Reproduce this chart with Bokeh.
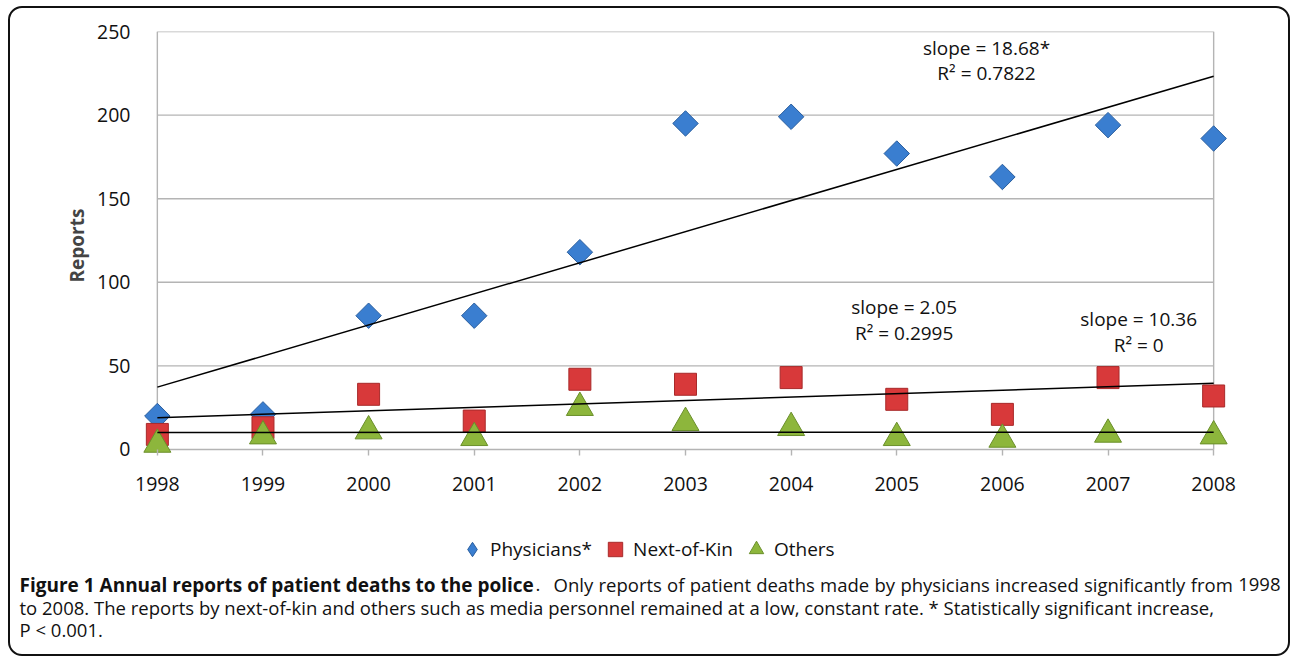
import numpy as np
from bokeh.plotting import figure
from bokeh.layouts import column
from bokeh.models import Range1d, FixedTicker, Label, Legend, LegendItem
from bokeh.embed import file_html
from bokeh.resources import INLINE

# ---------------- data ----------------
years = [1998, 1999, 2000, 2001, 2002, 2003, 2004, 2005, 2006, 2007, 2008]
physicians = [20, 21, 80, 80, 118, 195, 199, 177, 163, 194, 186]
next_of_kin = [9, 13, 33, 17, 42, 39, 43, 30, 21, 43, 32]
others = [3, 8, 11, 7, 25, 16, 13, 7, 6, 9, 8]
y_ticks = [0, 50, 100, 150, 200, 250]
series_names = ["Physicians*", "Next-of-Kin", "Others"]
trend_notes = [["slope = 18.68*", "R\u00b2 = 0.7822"],
               ["slope = 2.05", "R\u00b2 = 0.2995"],
               ["slope = 10.36", "R\u00b2 = 0"]]
y_title = "Reports"
caption_bold = "Figure 1 Annual reports of patient deaths to the police"
caption_rest = [". Only reports of patient deaths made by physicians increased significantly from 1998",
                "to 2008. The reports by next-of-kin and others such as media personnel remained at a low, constant rate. * Statistically significant increase,",
                "P < 0.001."]

# ---------------- style ----------------
FONT = "Open Sans"
TXT = "#111111"
GRID = "#B4B4B4"
COLORS = [("#3A7ED0", "#2A5E9E"), ("#D8393A", "#A82A2A"), ("#8DB63C", "#6A8F2A")]
W = 1278
TICK_FS = "19.5px"

# ---------------- chart ----------------
p = figure(width=W, height=502,
           x_range=Range1d(1997.85, 2008.15), y_range=Range1d(-6, 250),
           output_backend="svg", toolbar_location=None,
           min_border_left=131, min_border_right=59,
           min_border_top=23, min_border_bottom=51)
p.frame_align = False
p.outline_line_color = None
p.border_fill_color = None
p.background_fill_color = None
p.xgrid.visible = False
p.ygrid.visible = False

n = len(y_ticks)
p.segment(x0=[years[0]] * n, x1=[years[-1]] * n, y0=y_ticks, y1=y_ticks,
          line_color=GRID, line_width=1.4)
p.segment(x0=[years[0], years[-1]], x1=[years[0], years[-1]],
          y0=[y_ticks[0]] * 2, y1=[y_ticks[-1]] * 2, line_color=GRID, line_width=1.4)

p.xaxis.ticker = FixedTicker(ticks=years)
p.xaxis.axis_line_color = None
p.xaxis.major_tick_in = 10
p.xaxis.major_tick_out = -4
p.xaxis.major_tick_line_color = GRID
p.xaxis.major_tick_line_width = 1.4
p.xaxis.minor_tick_line_color = None
p.xaxis.major_label_standoff = 17
p.xaxis.major_label_text_font = FONT
p.xaxis.major_label_text_font_size = TICK_FS
p.xaxis.major_label_text_color = TXT

p.yaxis.ticker = FixedTicker(ticks=y_ticks)
p.yaxis.axis_line_color = None
p.yaxis.major_tick_line_color = None
p.yaxis.minor_tick_line_color = None
p.yaxis.major_label_standoff = 5
p.yaxis.major_label_text_font = FONT
p.yaxis.major_label_text_font_size = TICK_FS
p.yaxis.major_label_text_color = TXT
p.yaxis.axis_label = y_title
p.yaxis.axis_label_text_font = FONT
p.yaxis.axis_label_text_font_style = "bold"
p.yaxis.axis_label_text_font_size = "19px"
p.yaxis.axis_label_standoff = 4

marker_specs = [dict(marker="square", angle=np.pi / 4, size=18),
                dict(marker="square", size=22),
                dict(marker="triangle", size=27)]
legend_markers = ["diamond", "square", "triangle"]
series = [physicians, next_of_kin, others]
for vals, spec, (fc, lc) in zip(series, marker_specs, COLORS):
    p.scatter(years, vals, fill_color=fc, line_color=lc, line_width=1, **spec)

ends = [years[0], years[-1]]
for vals in series:
    coef = np.polyfit(years, vals, 1)
    p.line(ends, list(np.polyval(coef, ends)), line_color="#000000", line_width=1.5)

note_pos = [(2005.85, 240.4, 224.9), (2005.07, 85.5, 69.4), (2007.29, 77.8, 62.2)]
for (l1, l2), (x, y1, y2) in zip(trend_notes, note_pos):
    for txt, yy in ((l1, y1), (l2, y2)):
        p.add_layout(Label(x=x, y=yy, text=txt, text_align="center", text_baseline="middle",
                           text_font=FONT, text_font_size="19px", text_color=TXT))

# ---------------- legend + caption panel ----------------
H2 = 144
q = figure(width=W, height=H2, x_range=Range1d(0, W), y_range=Range1d(H2, 0),
           x_axis_type=None, y_axis_type=None,
           output_backend="svg", toolbar_location=None,
           min_border_left=0, min_border_right=0, min_border_top=0, min_border_bottom=0)
q.frame_align = False
q.outline_line_color = None
q.border_fill_color = None
q.background_fill_color = None
q.xgrid.visible = False
q.ygrid.visible = False

# legend keys: same series, which lie outside this panel's ranges (not visible here)
keys = []
for vals, mk, (fc, lc) in zip(series, legend_markers, COLORS):
    keys.append(q.scatter(years, vals, marker=mk, size=14,
                          fill_color=fc, line_color=lc, line_width=1))
legend = Legend(items=[LegendItem(label=nm, renderers=[k]) for nm, k in zip(series_names, keys)],
                orientation="horizontal", location=(444, 87),
                glyph_width=36, glyph_height=36, label_standoff=-8, spacing=5,
                padding=0, margin=0, border_line_color=None, background_fill_alpha=0,
                label_text_font=FONT, label_text_font_size="19px", label_text_color=TXT)
q.add_layout(legend)

REG_FS = 18.5
Y1, Y2, Y3 = 74, 97, 119
cap_kw = dict(text_font=FONT, text_color=TXT, text_baseline="alphabetic")
q.add_layout(Label(x=9, y=Y1, text=caption_bold, text_font_style="bold",
                   text_font_size="19px", **cap_kw))
q.add_layout(Label(x=525, y=Y1, text=caption_rest[0][0], text_font_size=f"{REG_FS}px", **cap_kw))

# justify the remaining words of the first caption line between two edges
EM = {" ": .26, "a": .556, "b": .613, "c": .476, "d": .613, "e": .561, "f": .339, "g": .548,
      "h": .614, "i": .253, "k": .525, "l": .253, "m": .93, "n": .614, "o": .604, "p": .613,
      "r": .408, "s": .477, "t": .353, "u": .614, "y": .501, "O": .781, ".": .266}
words = caption_rest[0][2:].split(" ")
wid = [sum(EM.get(ch, .572) for ch in w) * REG_FS for w in words]
L, R = 543, 1270
gap = (R - L - sum(wid)) / (len(words) - 1)
xpos = L
for i, (w, ww) in enumerate(zip(words, wid)):
    if i == len(words) - 1:
        q.add_layout(Label(x=R, y=Y1, text=w, text_align="right",
                           text_font_size=f"{REG_FS}px", **cap_kw))
    else:
        q.add_layout(Label(x=xpos, y=Y1, text=w, text_font_size=f"{REG_FS}px", **cap_kw))
    xpos += ww + gap

q.add_layout(Label(x=9, y=Y2, text=caption_rest[1], text_font_size=f"{REG_FS}px", **cap_kw))
q.add_layout(Label(x=9, y=Y3, text=caption_rest[2], text_font_size=f"{REG_FS}px", **cap_kw))

layout = column(p, q, margin=(6, 0, 0, 8),
                styles={"border": "2px solid #111111", "border-radius": "14px"})

open("out.html", "w").write(file_html(layout, INLINE))
